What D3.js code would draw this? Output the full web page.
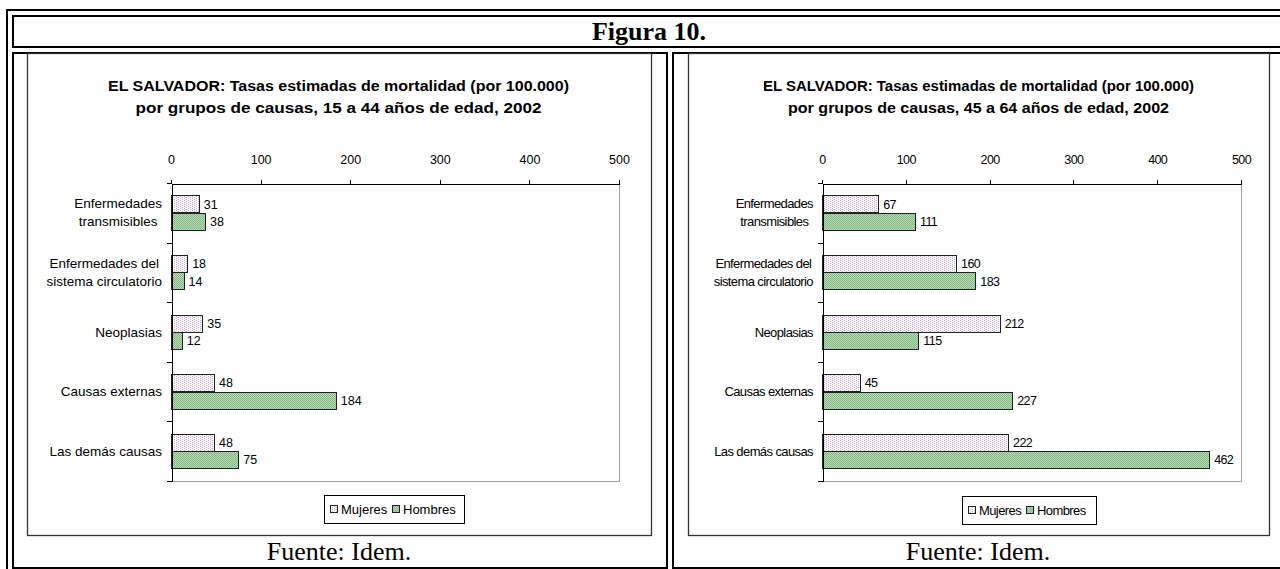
<!DOCTYPE html>
<html>
<head>
<meta charset="utf-8">
<script src="https://cdn.jsdelivr.net/npm/d3@7"></script>
<style>
  body { margin: 0; background: #fff; }
  svg { display: block; font-family: "Liberation Sans", Arial, sans-serif; }
</style>
</head>
<body>
<svg id="fig" width="1280" height="569"></svg>
<script>
// data
const categories = [
    ["Enfermedades", "transmisibles"],
    ["Enfermedades del", "sistema circulatorio"],
    ["Neoplasias"],
    ["Causas externas"],
    ["Las demás causas"]
];
const series = ["Mujeres", "Hombres"];
const xTicks = [0, 100, 200, 300, 400, 500];

const mujeres15a44 = [31, 18, 35, 48, 48];
const hombres15a44 = [38, 14, 12, 184, 75];
const mujeres45a64 = [67, 160, 212, 45, 222];
const hombres45a64 = [111, 183, 115, 227, 462];

const titulo15a44 = ["EL SALVADOR: Tasas estimadas de mortalidad (por 100.000)",
    "por grupos de causas, 15 a 44 años de edad, 2002"];
const titulo45a64 = ["EL SALVADOR: Tasas estimadas de mortalidad (por 100.000)",
    "por grupos de causas, 45 a 64 años de edad, 2002"];

const svg = d3.select("#fig");

// fill patterns (Excel style dotted / checkered)
const defs = svg.append("defs");
const pattern = function (id, size, base, dot, cells) {
    const p = defs.append("pattern")
        .attr("id", id)
        .attr("width", size[0]).attr("height", size[1])
        .attr("patternUnits", "userSpaceOnUse");
    p.append("rect").attr("width", size[0]).attr("height", size[1]).attr("fill", base);
    cells.forEach(c => p.append("rect")
        .attr("x", c[0]).attr("y", c[1])
        .attr("width", 1).attr("height", 1)
        .attr("fill", dot));
};
pattern("pat-Mujeres", [4, 2], "#fbf8fb", "#c9afc9", [[0, 0], [2, 1]]);
pattern("pat-Hombres", [2, 2], "#b4d9b4", "#86ba86", [[0, 0], [1, 1]]);

// document table borders
const table = svg.append("g")
    .attr("fill", "none")
    .attr("stroke", "#000")
    .attr("stroke-width", 2);
table.append("path").attr("d", "M7,575V10H1290");
table.append("rect").attr("x", 13).attr("y", 16).attr("width", 1290).attr("height", 31);
table.append("rect").attr("x", 13).attr("y", 53).attr("width", 654).attr("height", 515);
table.append("rect").attr("x", 673).attr("y", 53).attr("width", 640).attr("height", 515);

svg.append("text")
    .attr("x", 649).attr("y", 40)
    .attr("text-anchor", "middle")
    .style("font-family", "'Liberation Serif', 'Times New Roman', serif")
    .style("font-weight", "bold")
    .style("font-size", "26px")
    .text("Figura 10.");

const drawChart = function (cfg, mujeres, hombres, titulo) {
    const g = svg.append("g");
    const values = {Mujeres: mujeres, Hombres: hombres};

    // chart frame
    g.append("rect")
        .attr("x", cfg.frame[0] + 0.5).attr("y", cfg.frame[1] + 0.5)
        .attr("width", cfg.frame[2] - cfg.frame[0]).attr("height", cfg.frame[3] - cfg.frame[1])
        .attr("fill", "#fff")
        .attr("stroke", "#333")
        .attr("stroke-width", 1.3);

    // title
    g.selectAll("text.title")
        .data(titulo)
        .join("text")
        .attr("class", "title")
        .attr("x", cfg.titleX)
        .attr("y", (d, i) => cfg.titleY + i * 22)
        .attr("text-anchor", "middle")
        .attr("textLength", (d, i) => cfg.titleWidths[i])
        .attr("lengthAdjust", "spacingAndGlyphs")
        .style("font-weight", "bold")
        .style("font-size", "14px")
        .text(d => d);

    const x = d3.scaleLinear().domain([0, 500]).range([cfg.left, cfg.right]);
    const y = d3.scaleBand().domain(d3.range(categories.length)).range([cfg.top, cfg.bottom]);
    const yEdge = d3.scaleLinear().domain([0, categories.length]).range([cfg.top, cfg.bottom]);
    const groupH = y.bandwidth() * 0.587;
    const ySeries = d3.scaleBand()
        .domain(series)
        .range([(y.bandwidth() - groupH) / 2, (y.bandwidth() + groupH) / 2]);

    // plot area border (right / bottom in grey)
    g.append("path")
        .attr("d", `M${Math.round(cfg.left)},${Math.round(cfg.bottom) + 0.5}H${Math.round(cfg.right) + 0.5}V${Math.round(cfg.top)}`)
        .attr("fill", "none")
        .attr("stroke", "#a0a0a0");

    // bars
    const bars = [];
    categories.forEach((c, i) => series.forEach(s => bars.push({i, s, v: values[s][i]})));

    g.selectAll("rect.bar")
        .data(bars)
        .join("rect")
        .attr("class", "bar")
        .attr("x", Math.round(x(0)) + 0.5)
        .attr("y", d => Math.round(y(d.i) + ySeries(d.s)) + 0.5)
        .attr("width", d => Math.round(x(d.v) - x(0)))
        .attr("height", Math.round(ySeries.bandwidth()))
        .attr("fill", d => `url(#pat-${d.s})`)
        .attr("stroke", "#222")
        .attr("stroke-width", 1);

    g.selectAll("text.val")
        .data(bars)
        .join("text")
        .attr("class", "val")
        .attr("x", d => x(d.v) + 5)
        .attr("y", d => y(d.i) + ySeries(d.s) + ySeries.bandwidth() / 2 + 4.5)
        .style("font-size", "12.5px")
        .style("letter-spacing", cfg.spacing)
        .text(d => d.v);

    // x axis on top
    const xAxis = g.append("g")
        .attr("transform", `translate(0,${Math.round(cfg.top) + 0.5})`)
        .call(d3.axisTop(x).tickValues(xTicks).tickSize(4).tickSizeOuter(0).tickPadding(16));
    xAxis.selectAll("text")
        .style("font-size", "12.5px")
        .style("letter-spacing", cfg.spacing)
        .attr("fill", "#000");

    // category axis, ticks between categories
    g.append("g")
        .attr("transform", `translate(${Math.round(cfg.left) + 0.5},0)`)
        .call(d3.axisLeft(yEdge).tickValues(d3.range(categories.length + 1)).tickSize(5).tickSizeOuter(0).tickFormat(""));
    g.selectAll(".domain, .tick line").attr("stroke", "#000").attr("shape-rendering", "crispEdges");

    // category labels, lines centred on each other, block right aligned
    g.selectAll("g.cat")
        .data(categories)
        .join("g")
        .attr("class", "cat")
        .each(function (lines, i) {
            const t = d3.select(this).selectAll("text")
                .data(lines)
                .join("text")
                .attr("y", (d, k) => y(i) + y.bandwidth() / 2 + (k - (lines.length - 1) / 2) * 18 + 4.5)
                .attr("text-anchor", "middle")
                .style("font-size", cfg.catSize)
                .style("letter-spacing", cfg.spacing)
                .text(d => d);
            let maxW = 0;
            t.each(function () { maxW = Math.max(maxW, this.getComputedTextLength()); });
            t.attr("x", cfg.left - 9 - maxW / 2);
        });

    // legend
    const lgd = g.append("g").attr("transform", `translate(${cfg.legend[0]},${cfg.legend[1]})`);
    lgd.append("rect")
        .attr("x", 0.5).attr("y", 0.5)
        .attr("width", cfg.legend[2]).attr("height", 28)
        .attr("fill", "#fff")
        .attr("stroke", "#000");
    series.forEach((s, k) => {
        const ox = cfg.legendItems[k];
        lgd.append("rect")
            .attr("x", ox + 0.5).attr("y", 10.5)
            .attr("width", 7).attr("height", 7)
            .attr("fill", `url(#pat-${s})`)
            .attr("stroke", "#222");
        lgd.append("text")
            .attr("x", ox + 11).attr("y", 18.5)
            .style("font-size", "13px")
            .style("letter-spacing", cfg.spacing)
            .text(s);
    });

    // source note
    svg.append("text")
        .attr("x", cfg.sourceX).attr("y", 560)
        .attr("text-anchor", "middle")
        .style("font-family", "'Liberation Serif', 'Times New Roman', serif")
        .style("font-size", "26px")
        .text("Fuente: Idem.");
};

drawChart({
    frame: [27, 53, 651, 535],
    left: 171, right: 619, top: 183, bottom: 481,
    titleX: 338.5, titleY: 91, titleWidths: [461, 406],
    legend: [324, 495, 140], legendItems: [6, 68],
    spacing: "0px", catSize: "13.5px",
    sourceX: 339
}, mujeres15a44, hombres15a44, titulo15a44);

drawChart({
    frame: [688, 53, 1269, 535],
    left: 822, right: 1241, top: 183, bottom: 481,
    titleX: 978.5, titleY: 91, titleWidths: [431, 381],
    legend: [962, 496, 134], legendItems: [6, 64],
    spacing: "-0.6px", catSize: "13px",
    sourceX: 978
}, mujeres45a64, hombres45a64, titulo45a64);
</script>
</body>
</html>
